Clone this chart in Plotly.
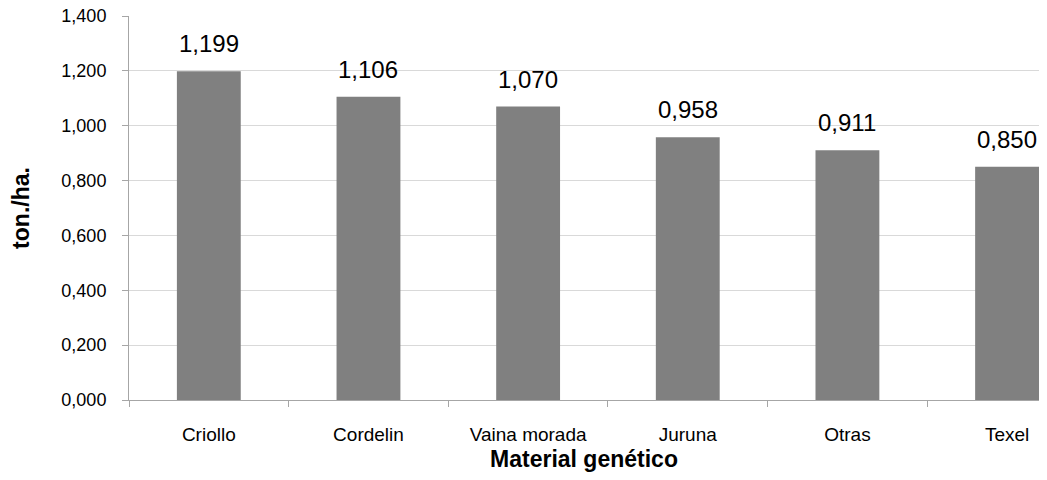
import plotly.graph_objects as go

CATEGORIES = ["Criollo", "Cordelin", "Vaina morada", "Juruna", "Otras", "Texel"]
YIELD_TON_HA = [1.199, 1.106, 1.070, 0.958, 0.911, 0.850]
Y_TICKS = [0.0, 0.2, 0.4, 0.6, 0.8, 1.0, 1.2, 1.4]

_BAR = "#808080"
_AXIS = "#a6a6a6"
_GRID = "#d9d9d9"
_FONT = "Liberation Sans, Arial, sans-serif"

fig = go.Figure()

fig.add_trace(
    go.Bar(
        x=CATEGORIES,
        y=YIELD_TON_HA,
        width=0.4,
        marker=dict(color=_BAR, line=dict(width=0)),
        hovertemplate="%{x}: %{y:.3f}<extra></extra>",
    )
)

# value labels sit well above each bar, as in the original
for cat, val in zip(CATEGORIES, YIELD_TON_HA):
    fig.add_annotation(
        x=cat,
        y=val,
        text=f"{val:.3f}".replace(".", ","),
        showarrow=False,
        yanchor="bottom",
        yshift=12,
        font=dict(size=24, color="black", family=_FONT),
    )

# the last bar is cut by the right edge, like the original
fig.update_xaxes(
    range=[-0.5, 5.2],
    tickson="boundaries",
    ticks="outside",
    ticklen=6,
    tickcolor=_AXIS,
    showline=True,
    linecolor=_AXIS,
    linewidth=1,
    showgrid=False,
    tickfont=dict(size=19, color="black", family=_FONT),
    ticklabelstandoff=17,
    title=dict(
        text="<b>Material genético</b>",
        font=dict(size=23, color="black", family=_FONT),
        standoff=20,
    ),
)

fig.update_yaxes(
    range=[0, 1.4],
    tickmode="array",
    tickvals=Y_TICKS,
    tickformat=".3f",
    ticks="outside",
    ticklen=6,
    tickcolor=_AXIS,
    showline=True,
    linecolor=_AXIS,
    linewidth=1,
    showgrid=True,
    gridcolor=_GRID,
    gridwidth=1,
    zeroline=False,
    tickfont=dict(size=18, color="black", family=_FONT),
    ticklabelstandoff=12,
    ticklabeloverflow="allow",
    title=dict(
        text="<b>ton./ha.</b>",
        font=dict(size=23, color="black", family=_FONT),
        standoff=28,
    ),
)

# the page body adds 8px on every side, so the figure is sized to fit inside it
fig.update_layout(
    separators=",.",
    width=1031,
    height=464,
    margin=dict(l=121, r=0, t=8, b=72, autoexpand=False),
    plot_bgcolor="white",
    paper_bgcolor="white",
    showlegend=False,
)

fig.write_html("out.html")
